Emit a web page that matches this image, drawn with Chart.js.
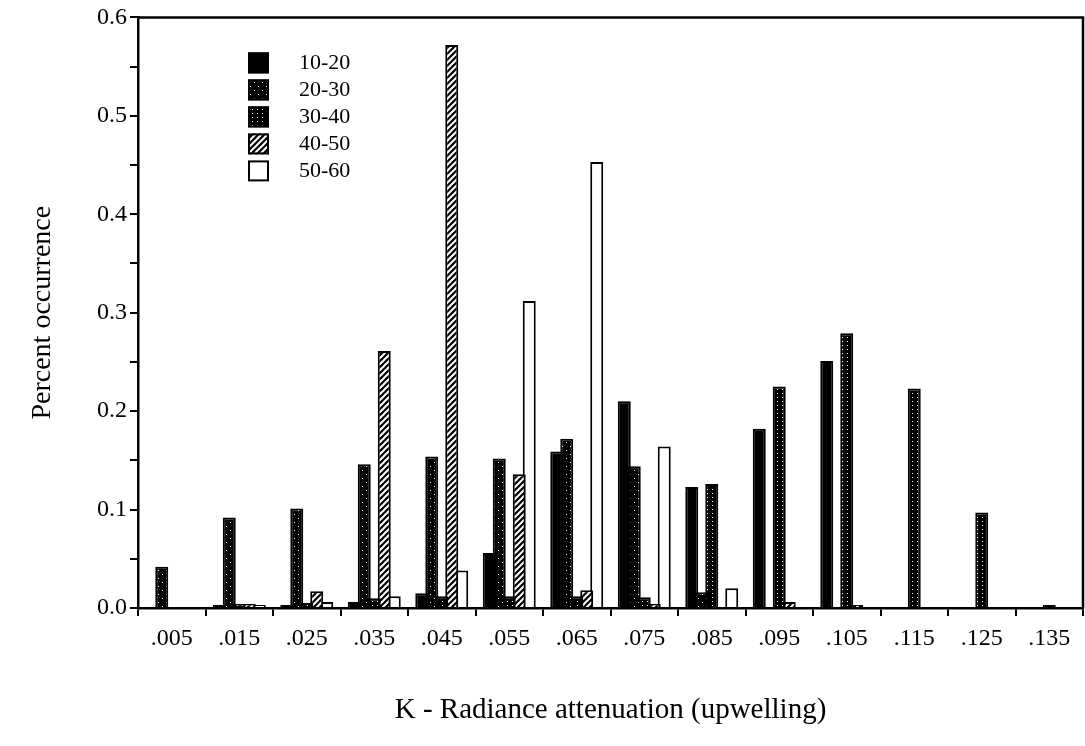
<!DOCTYPE html>
<html>
<head>
<meta charset="utf-8">
<title>K - Radiance attenuation (upwelling)</title>
<script src="https://cdn.jsdelivr.net/npm/chart.js@4.4.1/dist/chart.umd.min.js"></script>
<style>
  html, body { margin: 0; padding: 0; background: #fff; }
  #chart { display: block; }
</style>
</head>
<body>
<canvas id="chart" width="1085" height="746"></canvas>
<script>
// categorias del eje x (K)
const kLabels = [".005", ".015", ".025", ".035", ".045", ".055", ".065", ".075", ".085", ".095", ".105", ".115", ".125", ".135"];
const seriesNames = ["10-20", "20-30", "30-40", "40-50", "50-60"];

// valores
const occ1020 = [0, 0.003, 0.003, 0.006, 0.015, 0.056, 0.159, 0.21, 0.123, 0.182, 0.251, 0, 0, 0];
const occ2030 = [0.042, 0.092, 0.101, 0.146, 0.154, 0.152, 0.172, 0.144, 0.016, 0, 0, 0, 0, 0];
const occ3040 = [0, 0.004, 0.005, 0.01, 0.012, 0.012, 0.012, 0.011, 0.126, 0.225, 0.279, 0.223, 0.097, 0.003];
const occ4050 = [0, 0.004, 0.017, 0.261, 0.572, 0.136, 0.018, 0.004, 0, 0.006, 0.003, 0, 0, 0];
const occ5060 = [0, 0.003, 0.006, 0.012, 0.038, 0.312, 0.453, 0.164, 0.02, 0, 0, 0, 0, 0];

const FONT = "'Liberation Serif', 'Times New Roman', serif";

// tramas en blanco y negro
function makePattern(kind) {
  if (kind === "solid") return "#000";
  if (kind === "white") return "#fff";
  const c = document.createElement("canvas");
  const g = c.getContext("2d");
  if (kind === "diagDots") {
    c.width = 8; c.height = 8;
    g.fillStyle = "#000"; g.fillRect(0, 0, 8, 8);
    g.fillStyle = "#fff";
    g.fillRect(2, 6, 1, 1);
    g.fillRect(6, 2, 1, 1);
  } else if (kind === "gridDots") {
    c.width = 5; c.height = 4;
    g.fillStyle = "#000"; g.fillRect(0, 0, 5, 4);
    g.fillStyle = "#fff";
    g.fillRect(2, 1, 1, 1);
  } else if (kind === "hatch") {
    c.width = 6; c.height = 6;
    g.fillStyle = "#000"; g.fillRect(0, 0, 6, 6);
    g.strokeStyle = "#fff";
    g.lineWidth = 2;
    g.beginPath();
    g.moveTo(-3, 3); g.lineTo(3, -3);
    g.moveTo(0, 6); g.lineTo(6, 0);
    g.moveTo(3, 9); g.lineTo(9, 3);
    g.stroke();
  }
  return g.createPattern(c, "repeat");
}

const fills = [makePattern("solid"), makePattern("diagDots"), makePattern("gridDots"), makePattern("hatch"), makePattern("white")];
const allSeries = [occ1020, occ2030, occ3040, occ4050, occ5060];

const datasets = allSeries.map((d, i) => ({
  label: seriesNames[i],
  data: d,
  backgroundColor: fills[i],
  borderColor: "#000",
  borderWidth: 2,
  categoryPercentage: 0.74,
  barPercentage: 1.3,
}));

// leyenda dentro del area del grafico
const legendBox = {
  id: "legendBox",
  afterDraw(chart) {
    const { ctx, chartArea } = chart;
    const x = chartArea.left + 110;
    let y = chartArea.top + 35;
    ctx.save();
    ctx.font = "22px " + FONT;
    ctx.textBaseline = "middle";
    chart.data.datasets.forEach((ds) => {
      ctx.fillStyle = ds.backgroundColor;
      ctx.fillRect(x, y, 21, 21);
      ctx.lineWidth = 2;
      ctx.strokeStyle = "#000";
      ctx.strokeRect(x + 1, y + 1, 19, 19);
      ctx.fillStyle = "#000";
      ctx.fillText(ds.label, x + 51, y + 11);
      y += 27;
    });
    ctx.restore();
  },
};

// marco superior y derecho
const frame = {
  id: "frame",
  afterDraw(chart) {
    const { ctx, chartArea } = chart;
    ctx.save();
    ctx.strokeStyle = "#000";
    ctx.lineWidth = 2.5;
    ctx.beginPath();
    ctx.moveTo(chartArea.left, chartArea.top);
    ctx.lineTo(chartArea.right, chartArea.top);
    ctx.lineTo(chartArea.right, chartArea.bottom);
    ctx.stroke();
    ctx.restore();
  },
};

Chart.defaults.font.family = FONT;
Chart.defaults.color = "#000";

new Chart(document.getElementById("chart").getContext("2d"), {
  type: "bar",
  data: { labels: kLabels, datasets },
  options: {
    responsive: false,
    devicePixelRatio: 1,
    animation: false,
    layout: { padding: { top: 14, right: 2, bottom: 0, left: 0 } },
    plugins: {
      legend: { display: false },
      tooltip: { enabled: false },
    },
    scales: {
      x: {
        offset: true,
        grid: { offset: true, drawOnChartArea: false, tickLength: 8, lineWidth: 2, color: "#000" },
        border: { color: "#000", width: 2.5 },
        ticks: { font: { size: 24 }, padding: 8, maxRotation: 0, autoSkip: false },
        title: {
          display: true,
          text: "K - Radiance attenuation (upwelling)",
          font: { size: 29 },
          padding: { top: 0, bottom: 18 },
        },
        afterFit(scale) { scale.height = 138; },
      },
      y: {
        min: 0,
        max: 0.6,
        grid: { drawOnChartArea: false, tickLength: 8, lineWidth: 2, color: "#000" },
        border: { color: "#000", width: 2.5 },
        ticks: {
          stepSize: 0.05,
          autoSkip: false,
          font: { size: 24 },
          padding: 3,
          callback: (v) => (Math.round(v * 20) % 2 === 0 ? v.toFixed(1) : ""),
        },
        title: {
          display: true,
          text: "Percent occurrence",
          font: { size: 28 },
          padding: { top: 26, bottom: 0 },
        },
        afterFit(scale) { scale.width = 138; },
      },
    },
  },
  plugins: [legendBox, frame],
});
</script>
</body>
</html>
